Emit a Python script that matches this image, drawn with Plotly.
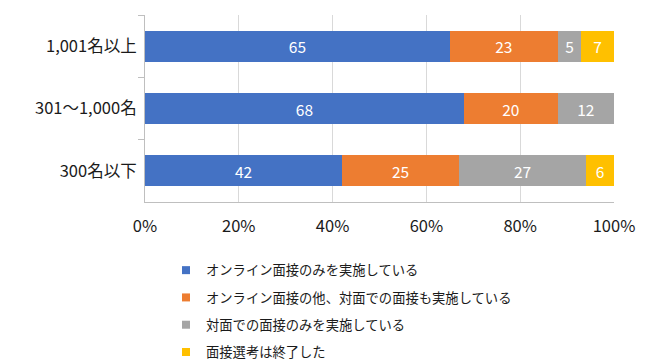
import plotly.graph_objects as go

categories = ["1,001名以上", "301〜1,000名", "300名以下"]
series_names = [
    "オンライン面接のみを実施している",
    "オンライン面接の他、対面での面接も実施している",
    "対面での面接のみを実施している",
    "面接選考は終了した",
]
online_only = [65, 68, 42]
online_and_face = [23, 20, 25]
face_only = [5, 12, 27]
finished = [7, 0, 6]
x_ticks = [0, 20, 40, 60, 80, 100]
x_tick_labels = ["0%", "20%", "40%", "60%", "80%", "100%"]

colors = ["#4472C4", "#ED7D31", "#A5A5A5", "#FFC000"]
values = [online_only, online_and_face, face_only, finished]

FONT = "Noto Sans CJK JP"
fig = go.Figure()
for name, vals, col in zip(series_names, values, colors):
    fig.add_trace(go.Bar(
        y=categories, x=vals, orientation="h", name=name,
        marker=dict(color=col, line=dict(width=0)),
        text=[str(v) if v > 0 else "" for v in vals],
        textposition="inside", insidetextanchor="middle",
        textfont=dict(color="white", size=15.5, family=FONT),
        showlegend=False, hoverinfo="x+name",
    ))
# legend entries (small square markers)
for i, (name, col) in enumerate(zip(series_names, colors)):
    fig.add_trace(go.Scatter(
        x=[None], y=[None], mode="markers", name=name,
        marker=dict(symbol="square", size=8, color=col),
        legendgroup=f"g{i}", showlegend=True,
    ))

fig.update_layout(
    width=648, height=363,
    barmode="stack", bargap=0.5,
    plot_bgcolor="white", paper_bgcolor="white",
    margin=dict(l=145, r=34, t=15, b=161, autoexpand=False),
    font=dict(family=FONT, color="#1a1a1a", size=16),
    legend=dict(
        orientation="v",
        xref="container", x=166 / 648, xanchor="left",
        yref="container", y=(363 - 255) / 363, yanchor="top",
        font=dict(size=13.3, family=FONT, color="#1a1a1a"),
        tracegroupgap=7, itemwidth=30,
        bgcolor="rgba(0,0,0,0)",
    ),
    xaxis=dict(
        range=[0, 100], tickvals=x_ticks, ticktext=x_tick_labels,
        showgrid=True, gridcolor="#D9D9D9", gridwidth=1,
        showline=True, linecolor="#BFBFBF", linewidth=1,
        zeroline=False, ticks="", ticklabelstandoff=9,
        tickfont=dict(size=16.5), automargin=False,
    ),
    yaxis=dict(
        categoryorder="array", categoryarray=categories,
        autorange="reversed",
        showline=True, linecolor="#BFBFBF", linewidth=1,
        ticks="outside", ticklen=6, tickcolor="#BFBFBF",
        tickson="boundaries", showgrid=False,
        ticklabelstandoff=4, tickfont=dict(size=16.5),
        automargin=False,
    ),
)
fig.write_html(
    "out.html",
    config={"displayModeBar": False},
    post_script="document.body.style.margin='0';document.body.style.padding='0';",
)
